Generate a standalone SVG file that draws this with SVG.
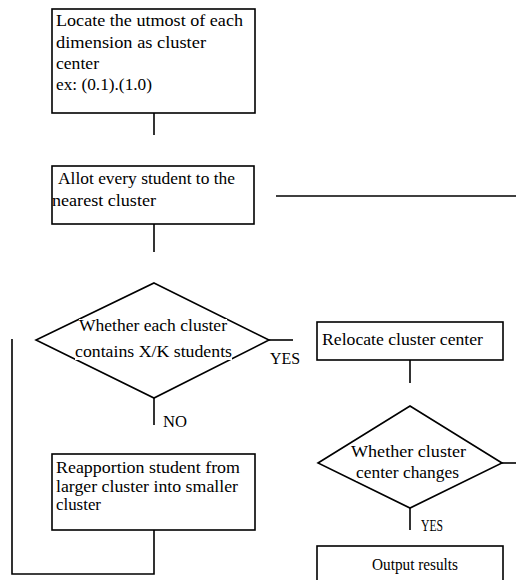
<svg xmlns="http://www.w3.org/2000/svg" width="516" height="580" viewBox="0 0 516 580">
<style>
.bx{fill:#fff;stroke:#000;stroke-width:1.6}
.ln{fill:none;stroke:#000;stroke-width:1.6}
.t{font-family:"Liberation Serif","Times New Roman",serif;font-size:17px;fill:#000}
.bg{fill:#fff}
</style>
<rect width="516" height="580" fill="#fff"/>
<g id="connectors">
<line class="ln" x1="154" y1="113" x2="154" y2="135"/>
<line class="ln" x1="154" y1="224" x2="154" y2="252"/>
<line class="ln" x1="276" y1="196" x2="516" y2="196"/>
<line class="ln" x1="269" y1="340" x2="293" y2="340"/>
<line class="ln" x1="154" y1="398" x2="154" y2="425"/>
<line class="ln" x1="410" y1="360" x2="410" y2="383"/>
<line class="ln" x1="502" y1="463" x2="516" y2="463"/>
<line class="ln" x1="410" y1="508" x2="410" y2="530"/>
<polyline class="ln" points="154,530 154,574 12,574 12,339"/>
</g>
<g id="locate">
<rect class="bx" x="52" y="9" width="203" height="104"/>
<text class="t" x="56" y="26" textLength="187" lengthAdjust="spacingAndGlyphs">Locate the utmost of each</text>
<text class="t" x="56" y="48" textLength="150" lengthAdjust="spacingAndGlyphs">dimension as cluster</text>
<text class="t" x="56" y="69" textLength="43" lengthAdjust="spacingAndGlyphs">center</text>
<text class="t" x="56" y="90" textLength="96" lengthAdjust="spacingAndGlyphs">ex: (0.1).(1.0)</text>
</g>
<g id="allot">
<rect class="bx" x="52" y="166" width="202" height="58"/>
<text class="t" x="58" y="184" textLength="177" lengthAdjust="spacingAndGlyphs">Allot every student to the</text>
<text class="t" x="52" y="206" textLength="104" lengthAdjust="spacingAndGlyphs">nearest cluster</text>
</g>
<g id="decision1">
<polygon class="bx" points="154,283 269,340 154,398 36,340"/>
<rect class="bg" x="79" y="319" width="148" height="15"/>
<rect class="bg" x="75" y="345" width="157" height="15"/>
<text class="t" x="79" y="331" textLength="148" lengthAdjust="spacingAndGlyphs">Whether each cluster</text>
<text class="t" x="75" y="357" textLength="157" lengthAdjust="spacingAndGlyphs">contains X/K students</text>
</g>
<g id="labels">
<text class="t" x="270" y="364" textLength="30" lengthAdjust="spacingAndGlyphs">YES</text>
<text class="t" x="163" y="427" textLength="24" lengthAdjust="spacingAndGlyphs">NO</text>
<text class="t" x="421" y="531" textLength="22" lengthAdjust="spacingAndGlyphs">YES</text>
</g>
<g id="relocate">
<rect class="bx" x="317" y="322" width="186" height="38"/>
<text class="t" x="322" y="345" textLength="161" lengthAdjust="spacingAndGlyphs">Relocate cluster center</text>
</g>
<g id="decision2">
<polygon class="bx" points="410,406 502,463 410,508 318,463"/>
<rect class="bg" x="351" y="445" width="115" height="15"/>
<rect class="bg" x="356" y="466" width="103" height="15"/>
<text class="t" x="351" y="457" textLength="115" lengthAdjust="spacingAndGlyphs">Whether cluster</text>
<text class="t" x="356" y="478" textLength="103" lengthAdjust="spacingAndGlyphs">center changes</text>
</g>
<g id="reapportion">
<rect class="bx" x="52" y="454" width="203" height="76"/>
<text class="t" x="56" y="473" textLength="184" lengthAdjust="spacingAndGlyphs">Reapportion student from</text>
<text class="t" x="56" y="492" textLength="182" lengthAdjust="spacingAndGlyphs">larger cluster into smaller</text>
<text class="t" x="56" y="510" textLength="45" lengthAdjust="spacingAndGlyphs">cluster</text>
</g>
<g id="output">
<rect class="bx" x="317" y="546" width="186" height="50"/>
<text class="t" x="372" y="570" textLength="86" lengthAdjust="spacingAndGlyphs">Output results</text>
</g>
</svg>
